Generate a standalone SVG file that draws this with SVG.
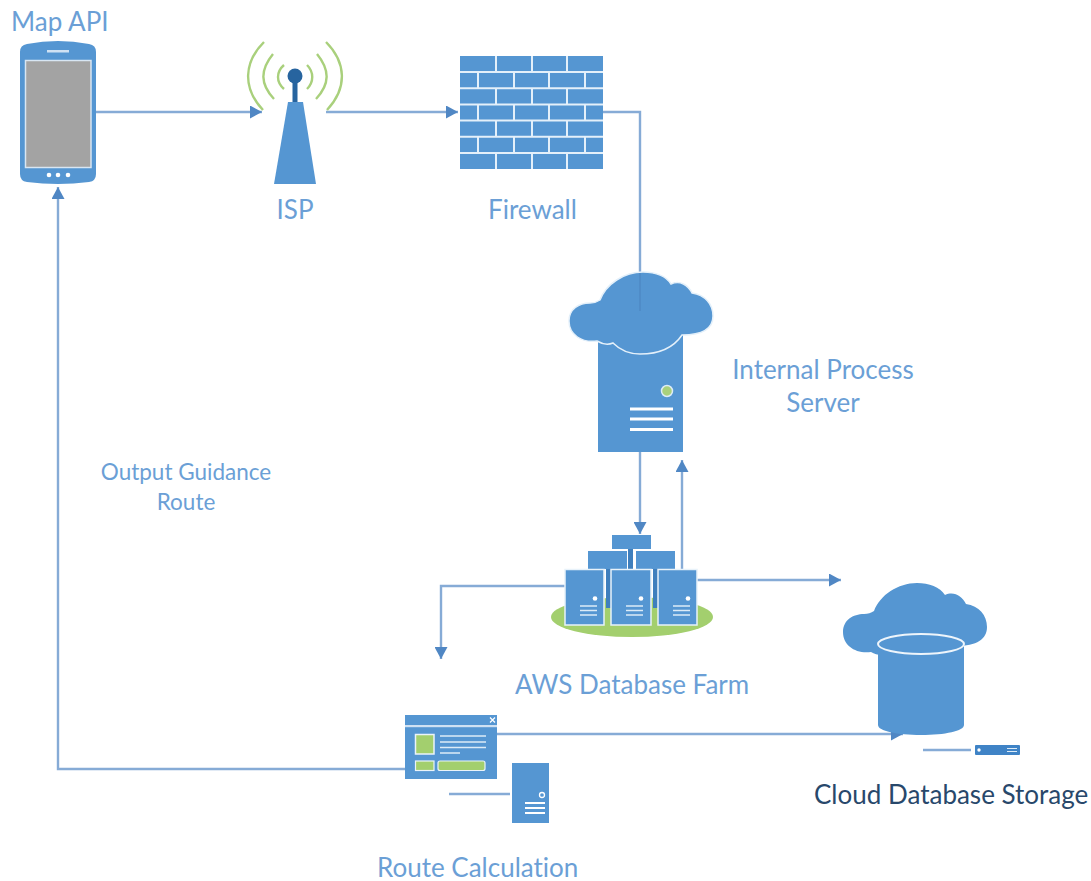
<svg xmlns="http://www.w3.org/2000/svg" xmlns:xlink="http://www.w3.org/1999/xlink" width="1091" height="881" viewBox="0 0 1091 881">
<style>
text{font-family:"Lato","Open Sans","Liberation Sans",sans-serif;fill:#6b9fd6;font-size:26px;font-variant-ligatures:none}
.c{text-anchor:middle}
.b{fill:#5596d2}
.g{fill:#a3cf6e}
.w{fill:#fff}
.conn{fill:none;stroke:#86abd6;stroke-width:2.400}
.wl{stroke:#e4f0fa;stroke-width:2;fill:none}
.wave{fill:none;stroke:#a9d07c;stroke-width:2.400}
</style>
<defs>
<marker id="arr" markerUnits="userSpaceOnUse" markerWidth="13" markerHeight="13" refX="12" refY="6.500" orient="auto"><path d="M0 0L12 6.500L0 13z" fill="#5087c4"/></marker>
<path id="cloud" d="M597 341C582 343 569 335 569 321C569 309 579 303 590 303C594 303 597 302 600 300C606 284 624 272 643 272C655 272 666 276 671 284C680 280 688 285 692 293C705 295 713 304 713 316C713 328 703 335 682 335C672 350 655 354 640 354C628 354 619 349 613 343C608 345 602 344 597 341z"/>
</defs>
<g id="connectors" class="conn">
<path d="M96 112H262" marker-end="url(#arr)"/>
<path d="M326 112H458" marker-end="url(#arr)"/>
<path d="M603 112H640V320"/>
<path d="M640 452V534" marker-end="url(#arr)"/>
<path d="M682 570V460" marker-end="url(#arr)"/>
<path d="M697 580H841" marker-end="url(#arr)"/>
<path d="M565 586H441V659" marker-end="url(#arr)"/>
<path d="M405 769H58V187" marker-end="url(#arr)"/>
<path d="M497 734H903" marker-end="url(#arr)"/>
<path d="M449 794H510"/>
<path d="M923 750H971"/>
</g>
<g id="phone">
<path class="b" d="M27 44Q58 38 89 44Q96 45 96 52V174Q96 181 89 182Q58 186 27 182Q20 181 20 174V52Q20 45 27 44z"/>
<rect x="25.500" y="60.500" width="65.500" height="107" fill="#a3a3a3" stroke="#d8e6f3" stroke-width="1.500"/>
<rect x="47" y="50" width="22" height="2.500" fill="#cfe1f3"/>
<circle class="w" cx="49" cy="175" r="2.300"/><circle class="w" cx="58" cy="175" r="2.300"/><circle class="w" cx="68" cy="175" r="2.300"/>
<text x="11" y="31">Map API</text>
</g>
<g id="isp">
<path class="b" d="M288 102H303L316 184H274z"/>
<rect x="292.500" y="78" width="5" height="24" fill="#27649f"/>
<circle cx="295" cy="76" r="7.500" fill="#27649f"/>
<path class="wave" d="M264 42C244 62 242 88 263 110M273 54C260 70 260 84 274 99M284 65C276 72 276 82 284 89M326 42C346 62 348 88 327 110M317 54C330 70 330 84 316 99M307 65C314 72 314 82 307 89"/>
<text class="c" x="295" y="219">ISP</text>
</g>
<g id="firewall">
<rect class="b" x="460" y="56" width="143" height="113"/>
<path class="wl" d="M460 72.100H603M460 88.300H603M460 104.400H603M460 120.600H603M460 136.700H603M460 152.900H603M496 56V72M532 56V72M567 56V72M478 72V88M514 72V88M549 72V88M585 72V88M496 88V104M532 88V104M567 88V104M478 104V120M514 104V120M549 104V120M585 104V120M496 120V137M532 120V137M567 120V137M478 137V153M514 137V153M549 137V153M585 137V153M496 153V169M532 153V169M567 153V169"/>
<text x="488" y="219">Firewall</text>
</g>
<g id="internal-server">
<rect class="b" x="598" y="335" width="85" height="117"/>
<use xlink:href="#cloud" class="b" stroke="#e4f0fa" stroke-width="1.500"/>
<path d="M640 273V311" stroke="#4f8cc8" stroke-width="2" fill="none"/>
<circle cx="667" cy="391" r="5.500" fill="#a9d07c" stroke="#dcebf7" stroke-width="1.500"/>
<path d="M630 409H673M630 419H673M630 429.500H673" stroke="#fff" stroke-width="3.200" fill="none"/>
<text class="c" x="823" y="379">Internal Process</text>
<text class="c" x="823" y="412">Server</text>
</g>
<g id="database-farm">
<ellipse class="g" cx="632" cy="617" rx="81" ry="20"/>
<rect x="628" y="548" width="5" height="22" fill="#3f7fbd"/>
<rect x="606" y="568" width="5" height="40" fill="#3f7fbd"/>
<rect x="653" y="568" width="5" height="40" fill="#3f7fbd"/>
<rect class="b" x="612" y="535" width="39" height="14"/>
<rect class="b" x="588" y="551" width="39" height="18"/>
<rect class="b" x="636" y="551" width="39" height="18"/>
<g id="farm-servers" stroke="#e8f2fa" stroke-width="1.500">
<rect class="b" x="565" y="569.500" width="39" height="55.500"/>
<rect class="b" x="611" y="569.500" width="40" height="55.500"/>
<rect class="b" x="658" y="569.500" width="39" height="55.500"/>
</g>
<g fill="#fff"><circle cx="595" cy="598.500" r="2.300"/><circle cx="641" cy="598.500" r="2.300"/><circle cx="688" cy="598.500" r="2.300"/></g>
<path d="M580 606H597M580 610.500H597M580 615H597M626 606H643M626 610.500H643M626 615H643M673 606H690M673 610.500H690M673 615H690" stroke="#dcebf7" stroke-width="1.500" fill="none"/>
<text x="515" y="694">AWS Database Farm</text>
</g>
<g id="route-calculation">
<rect class="b" x="405" y="715" width="92" height="64"/>
<rect x="405" y="725" width="92" height="2.200" fill="#cfe1f3"/>
<path d="M490 717.500L495 722.500M495 717.500L490 722.500" stroke="#fff" stroke-width="1.200"/>
<rect class="g" x="415.500" y="734.500" width="18.500" height="19.500" stroke="#eaf3fa" stroke-width="1.500"/>
<path d="M440 736H486M440 742H486M440 747.500H486M440 753H460" stroke="#dcebf7" stroke-width="1.600" fill="none"/>
<rect class="g" x="415.500" y="761" width="18.500" height="9.500" stroke="#eaf3fa" stroke-width="1.200"/>
<rect class="g" x="438" y="761" width="47" height="9.500" rx="2" stroke="#eaf3fa" stroke-width="1.200"/>
<rect class="b" x="512" y="763" width="37" height="60"/>
<circle cx="542" cy="795" r="2.500" fill="#5596d2" stroke="#fff" stroke-width="1.300"/>
<path d="M525 803H545M525 808H545M525 813H545" stroke="#fff" stroke-width="2.200" fill="none"/>
<text x="377" y="877">Route Calculation</text>
</g>
<g id="output-label">
<text class="c" x="186" y="480" style="font-size:22.500px">Output Guidance</text>
<text class="c" x="186" y="510" style="font-size:22.500px">Route</text>
</g>
<g id="cloud-storage">
<use xlink:href="#cloud" class="b" transform="translate(274 311)"/>
<path class="b" d="M878 644V725C878 731 897 735 921 735C945 735 964 731 964 725V644z"/>
<ellipse cx="921" cy="644" rx="43" ry="10" fill="#5596d2" stroke="#eef5fb" stroke-width="2"/>
<rect x="975" y="745" width="45" height="10" rx="1" fill="#3f83c6"/>
<circle cx="979" cy="750" r="1.700" fill="#fff"/>
<path d="M1007 748.500H1017M1007 751.500H1017" stroke="#dcebf7" stroke-width="1.200"/>
<text x="814" y="804" style="fill:#28486b">Cloud Database Storage</text>
</g>
</svg>
